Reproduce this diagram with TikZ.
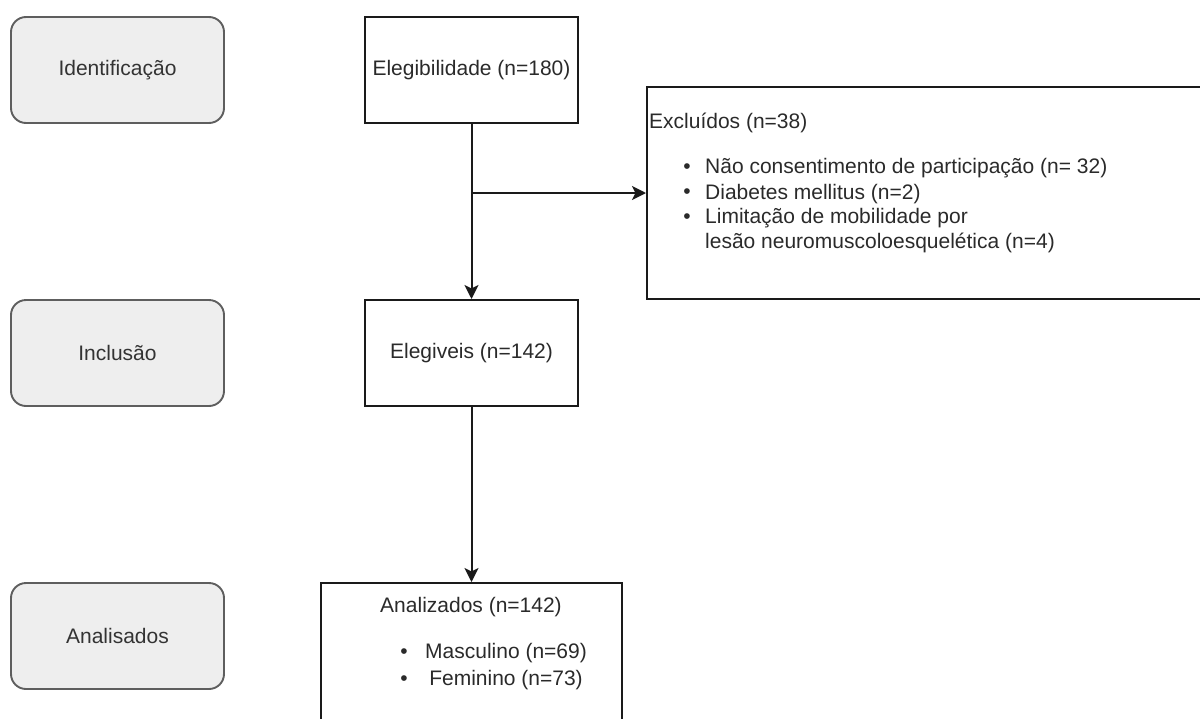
\documentclass[tikz,border=0pt]{standalone}
\usepackage{fontspec}
\setmainfont{Liberation Sans}
\usetikzlibrary{arrows.meta}
\definecolor{phasefill}{HTML}{EEEEEE}
\definecolor{phasedraw}{HTML}{5E5E5E}
\definecolor{phasetext}{HTML}{333333}
\definecolor{boxdraw}{HTML}{1A1A1A}
\definecolor{boxtext}{HTML}{2A2A2A}
\tikzset{
  lbl/.style={font=\fontsize{21}{25}\selectfont},
  phase/.style={lbl, draw=phasedraw, fill=phasefill, rounded corners=15pt, line width=1.9pt,
    minimum width=213pt, minimum height=106pt, text=phasetext, inner sep=0pt},
  stepbox/.style={lbl, draw=boxdraw, line width=2pt, inner sep=0pt, text=boxtext},
  txt/.style={lbl, text=boxtext, inner sep=0pt},
  conn/.style={draw=boxdraw, line width=2pt},
  arr/.style={conn, -{Stealth[length=14pt, width=14pt, inset=3.5pt]}}
}
\begin{document}
\begin{tikzpicture}[x=1pt, y=-1pt]
\useasboundingbox (0,0) rectangle (1200,718);
\clip (0,0) rectangle (1200,718);
% phase boxes
\node[phase] (ident) at (117.5,70) {Identificação};
\node[phase] (incl)  at (117.5,353) {Inclusão};
\node[phase] (anal)  at (117.5,636) {Analisados};
% step boxes
\node[stepbox, minimum width=213pt, minimum height=106pt] (eleg) at (471.5,70) {Elegibilidade (n=180)};
\node[stepbox, minimum width=213pt, minimum height=106pt] (elegv) at (471.5,353) {Elegiveis (n=142)};
\node[stepbox, minimum width=570pt, minimum height=212pt] (excl) at (932,193) {};
\node[stepbox, minimum width=301pt, minimum height=160pt] (analz) at (471.5,663) {};
% texts in Excluidos
\node[txt, anchor=west] (exclt) at (649,123) {Excluídos (n=38)};
\node[txt] (eb1) at (687,169) {•};
\node[txt] (eb2) at (687,194) {•};
\node[txt] (eb3) at (687,219) {•};
\node[txt, anchor=west] (et1) at (705,168) {Não consentimento de participação (n= 32)};
\node[txt, anchor=west] (et2) at (705,194) {Diabetes mellitus (n=2)};
\node[txt, anchor=west] (et3) at (705,218) {Limitação de mobilidade por};
\node[txt, anchor=west] (et4) at (705,243) {lesão neuromuscoloesquelética (n=4)};
% texts in Analizados
\node[txt] (at0) at (471,607) {Analizados (n=142)};
\node[txt] (ab1) at (404,654) {•};
\node[txt] (ab2) at (404,681) {•};
\node[txt] (at1) at (506,653) {Masculino (n=69)};
\node[txt] (at2) at (506,680) {Feminino (n=73)};
% connectors
\coordinate (junc) at (eleg.south |- excl.west);
\draw[arr] (eleg.south) -- (elegv.north);
\draw[arr] (junc) -- (excl.west);
\draw[arr] (elegv.south) -- (analz.north);
\end{tikzpicture}
\end{document}
